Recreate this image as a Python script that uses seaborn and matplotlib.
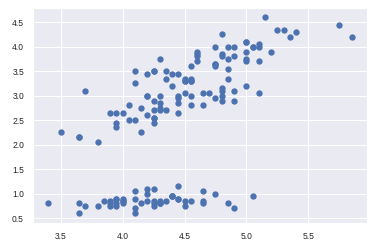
import matplotlib
matplotlib.use("Agg")
import matplotlib.pyplot as plt
import seaborn as sns
import pandas as pd

# mean of sepal measurements (x) vs mean of petal measurements (y)
sepal_mean = [
    4.3, 3.95, 3.95, 3.85, 4.3, 4.65, 4.0, 4.2, 3.65, 4.0,
    4.55, 4.1, 3.9, 3.65, 4.9, 5.05, 4.65, 4.3, 4.75, 4.45,
    4.4, 4.4, 4.1, 4.2, 4.1, 4.0, 4.2, 4.35, 4.3, 3.95,
    3.95, 4.4, 4.65, 4.85, 4.0, 4.1, 4.5, 4.25, 3.7, 4.25,
    4.25, 3.4, 3.8, 4.25, 4.45, 3.9, 4.45, 3.9, 4.5, 4.15,
    5.1, 4.8, 5.0, 3.9, 4.65, 4.25, 4.8, 3.65, 4.75, 3.95,
    3.5, 4.45, 4.1, 4.5, 4.25, 4.9, 4.3, 4.25, 4.2, 4.05,
    4.55, 4.45, 4.4, 4.45, 4.65, 4.8, 4.8, 4.85, 4.45, 4.15,
    3.95, 3.95, 4.25, 4.35, 4.2, 4.7, 4.9, 4.3, 4.3, 4.0,
    4.05, 4.55, 4.2, 3.65, 4.15, 4.35, 4.3, 4.55, 3.8, 4.25,
    4.8, 4.25, 5.05, 4.6, 4.75, 5.3, 3.7, 5.1, 4.6, 5.4,
    4.85, 4.55, 4.9, 4.1, 4.3, 4.8, 4.75, 5.75, 5.15, 4.1,
    5.05, 4.2, 5.25, 4.5, 5.0, 5.2, 4.5, 4.55, 4.6, 5.1,
    5.1, 5.85, 4.6, 4.55, 4.35, 5.35, 4.85, 4.75, 4.5, 5.0,
    4.9, 5.0, 4.25, 5.0, 5.0, 4.85, 4.4, 4.75, 4.8, 4.45,
]
petal_mean = [
    0.8, 0.8, 0.75, 0.85, 0.8, 1.05, 0.85, 0.85, 0.8, 0.8,
    0.85, 0.9, 0.75, 0.6, 0.7, 0.95, 0.85, 0.85, 1.0, 0.9,
    0.95, 0.95, 0.6, 1.1, 1.05, 0.9, 1.0, 0.85, 0.8, 0.9,
    0.9, 0.95, 0.8, 0.8, 0.85, 0.7, 0.75, 0.75, 0.75, 0.85,
    0.8, 0.8, 0.75, 1.1, 1.15, 0.85, 0.9, 0.8, 0.85, 0.8,
    3.05, 3.0, 3.2, 2.65, 3.05, 2.9, 3.15, 2.15, 2.95, 2.65,
    2.25, 2.85, 2.5, 3.05, 2.45, 2.9, 3.0, 2.55, 3.0, 2.5,
    3.3, 2.65, 3.2, 2.95, 2.8, 2.9, 3.1, 3.35, 3.0, 2.25,
    2.45, 2.35, 2.55, 3.35, 3.0, 3.05, 3.1, 2.85, 2.7, 2.65,
    2.8, 3.0, 2.6, 2.15, 2.75, 2.7, 2.75, 2.8, 2.05, 2.7,
    4.25, 3.5, 4.0, 3.7, 4.0, 4.35, 3.1, 4.05, 3.8, 4.3,
    3.55, 3.6, 3.8, 3.5, 3.75, 3.8, 3.65, 4.45, 4.6, 3.25,
    4.0, 3.45, 4.35, 3.35, 3.9, 3.9, 3.3, 3.35, 3.85, 3.7,
    4.0, 4.2, 3.9, 3.3, 3.5, 4.2, 4.0, 3.65, 3.3, 3.75,
    4.0, 3.7, 3.5, 4.1, 4.1, 3.75, 3.45, 3.6, 3.85, 3.45,
]

df = pd.DataFrame({"sepal": sepal_mean, "petal": petal_mean})

sns.set_theme(style="darkgrid")
plt.rcParams["font.family"] = ["Liberation Sans", "DejaVu Sans"]

W, H = 374, 251
fig = plt.figure(figsize=(W / 72, H / 72), dpi=72)
ax = fig.add_axes([33 / W, 1 - 223 / H, (367 - 33) / W, (223 - 7.5) / H])

sns.scatterplot(data=df, x="sepal", y="petal", ax=ax, color="#4C72B0",
                s=40, linewidth=0, alpha=1)
ax.set_xlabel("")
ax.set_ylabel("")
ax.set_xticks([3.5, 4.0, 4.5, 5.0, 5.5])
ax.set_yticks([0.5, 1.0, 1.5, 2.0, 2.5, 3.0, 3.5, 4.0, 4.5])
ax.tick_params(labelsize=8.5, colors="#262626", pad=3)
ax.margins(0.05)

fig.savefig("out.png", dpi=72)
